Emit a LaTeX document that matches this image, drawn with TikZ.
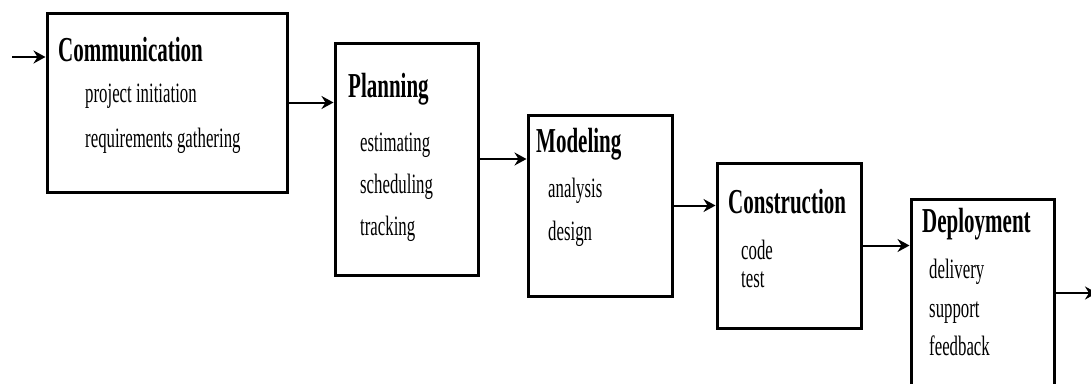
\documentclass[tikz,border=0pt]{standalone}
\usepackage{fontspec}
\newfontfamily\condfont[FakeStretch=0.6]{Liberation Serif}
\usetikzlibrary{arrows.meta}
\tikzset{
  phase/.style={draw=black, line width=3pt, fill=white, rectangle, inner sep=0pt},
  ttl/.style={anchor=base west, inner sep=0pt, font=\condfont\bfseries\fontsize{35}{40}\selectfont},
  itm/.style={anchor=base west, inner sep=0pt, font=\condfont\fontsize{28}{32}\selectfont},
  arr/.style={line width=2pt, -{Stealth[length=12pt,width=13pt,inset=4pt]}}
}
\begin{document}
\begin{tikzpicture}[x=1pt,y=-1pt]
\useasboundingbox (0,0) rectangle (1091,383);
\clip (0,0) rectangle (1091,383);
% boxes
\node[phase, minimum width=240pt, minimum height=179pt] (b1) at (167,102.5) {};
\node[phase, minimum width=143pt, minimum height=232pt] (b2) at (406.5,159) {};
\node[phase, minimum width=144pt, minimum height=181pt] (b3) at (600,205.5) {};
\node[phase, minimum width=144pt, minimum height=165pt] (b4) at (789,245.5) {};
\node[phase, minimum width=143pt, minimum height=188pt] (b5) at (982.5,293) {};
% texts
\node[ttl] (t1) at (58,61) {Communication};
\node[itm] (i11) at (85,102) {project initiation};
\node[itm] (i12) at (85,147) {requirements gathering};
\node[ttl] (t2) at (348,97) {Planning};
\node[itm] (i21) at (360,151) {estimating};
\node[itm] (i22) at (360,193) {scheduling};
\node[itm] (i23) at (360,235) {tracking};
\node[ttl] (t3) at (536,152) {Modeling};
\node[itm] (i31) at (548,197) {analysis};
\node[itm] (i32) at (548,240) {design};
\node[ttl] (t4) at (728,213) {Construction};
\node[itm] (i41) at (741,259) {code};
\node[itm] (i42) at (741,287) {test};
\node[ttl] (t5) at (922,232) {Deployment};
\node[itm] (i51) at (929,278) {delivery};
\node[itm] (i52) at (929,317) {support};
\node[itm] (i53) at (929,355) {feedback};
% connectors
\coordinate (in) at (12,57);
\coordinate (out) at (1097,293);
\draw[arr] (in) -- (in -| b1.west);
\draw[arr] (b1.east) -- (b1.east -| b2.west);
\draw[arr] (b2.east) -- (b2.east -| b3.west);
\draw[arr] (b3.east) -- (b3.east -| b4.west);
\draw[arr] (b4.east) -- (b4.east -| b5.west);
\draw[arr] (b5.east) -- (out);
\end{tikzpicture}
\end{document}
